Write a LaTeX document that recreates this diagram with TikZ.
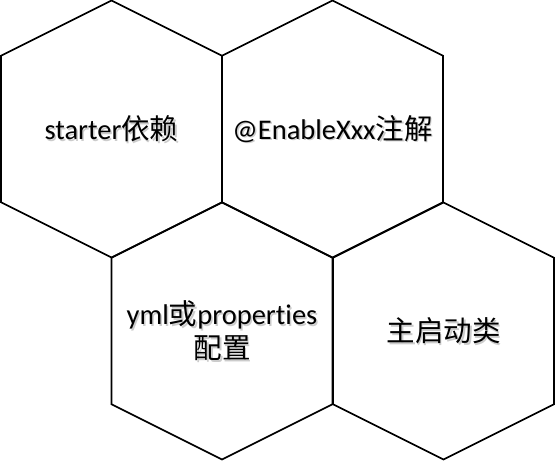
\documentclass[tikz,border=0pt]{standalone}
\usepackage{fontspec}
\setmainfont{Carlito}[Ligatures={NoCommon}]
\newfontfamily\cjk{Noto Sans CJK SC}
\tikzset{
  hexcell/.style={draw=black, line width=1.6pt, line join=miter},
  hexlabel/.style={font=\fontsize{28.5}{34}\selectfont, align=center, inner sep=0pt},
  hexshadow/.style={hexlabel, text=black!20}
}
\newcommand\celltext[2]{%
  \node[hexshadow] at ([shift={(1.5,1.5)}]H#1) {#2};
  \node[hexlabel] (T#1) at (H#1) {#2};}
\begin{document}
\begin{tikzpicture}[x=1pt,y=-1pt]
\useasboundingbox (0,0) rectangle (556,462);
\foreach \n / \cx / \cy in {A/111.5/128.75, B/332.5/128.75, C/222/330.75, D/443.5/330.75}
{
  \coordinate (H\n) at (\cx,\cy);
  \draw[hexcell] (H\n) ++(0,-128.25) -- ++(110.5,55.25) -- ++(0,146.5)
    -- ++(-110.5,55.25) -- ++(-110.5,-55.25) -- ++(0,-146.5) -- cycle;
}

\celltext{A}{starter{\cjk 依赖}}
\celltext{B}{@EnableXxx{\cjk 注解}}
\celltext{C}{yml{\cjk 或}properties\\{\cjk 配置}}
\celltext{D}{{\cjk 主启动类}}
\end{tikzpicture}
\end{document}
